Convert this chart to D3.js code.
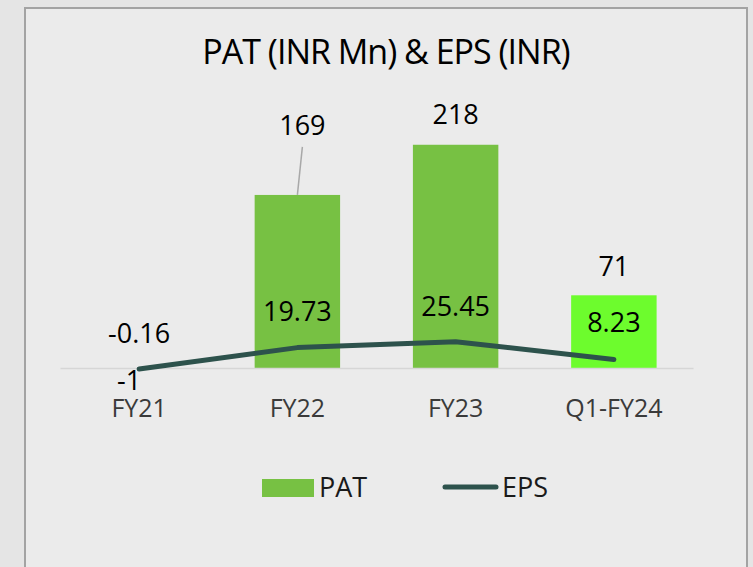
<!DOCTYPE html>
<html><head><meta charset="utf-8">
<script src="https://cdn.jsdelivr.net/npm/d3@7"></script>
<style>body{margin:0;background:#e4e4e4;} svg{display:block}</style>
</head><body>
<svg id="c" width="753" height="567"></svg>
<script>
// ---- data ----
const categories = ["FY21", "FY22", "FY23", "Q1-FY24"];
const patValues = [-0.16, 169, 218, 71];
const epsValues = [-1, 19.73, 25.45, 8.23];
const patLabels = ["-0.16", "169", "218", "71"];
const epsLabels = ["-1", "19.73", "25.45", "8.23"];
const seriesNames = ["PAT", "EPS"];
const title = "PAT (INR Mn) & EPS (INR)";

// ---- layout / style ----
const W = 753, H = 567;
const FONT = "'Open Sans', 'DejaVu Sans', sans-serif";
const barColors = ["#77c143", "#77c143", "#77c143", "#6dfc2d"];
const lineColor = "#2d524c";

const svg = d3.select("#c");

// background & frame
svg.append("rect").attr("width", W).attr("height", H).attr("fill", "#e5e5e5");
svg.append("rect").attr("x", 25).attr("y", 8).attr("width", 722).attr("height", H + 10)
  .attr("fill", "#ebebeb").attr("stroke", "#a3a3a3").attr("stroke-width", 2);

const x = d3.scaleBand().domain(categories).range([60, 693]).paddingInner(0.46).paddingOuter(0.23);
const yPat = d3.scaleLinear().domain([0, 250]).range([368, 112]);
const yEps = d3.scaleLinear().domain([0, 30]).range([368, 337]);

// title
svg.append("text").attr("x", 386).attr("y", 64).attr("text-anchor", "middle")
  .attr("font-family", FONT).attr("font-size", 34).attr("letter-spacing", -1)
  .attr("fill", "#000").text(title);

// bars
svg.append("g").selectAll("rect").data(patValues).join("rect")
  .attr("x", (d, i) => x(categories[i]))
  .attr("width", x.bandwidth())
  .attr("y", d => Math.min(yPat(d), yPat(0)))
  .attr("height", d => Math.max(1, Math.abs(yPat(d) - yPat(0))))
  .attr("fill", (d, i) => barColors[i]);

// baseline axis
const axis = d3.axisBottom(x).tickSize(0).tickPadding(0);
const gAxis = svg.append("g").attr("transform", `translate(0,${yPat(0)})`).call(axis);
gAxis.select(".domain").attr("stroke", "#d6d6d6").attr("stroke-width", 1.5);
gAxis.selectAll("text").attr("font-family", FONT).attr("font-size", 25)
  .attr("fill", "#3a3a3a").attr("dy", null).attr("y", 49);

// EPS line
const line = d3.line().x((d, i) => x(categories[i]) + x.bandwidth() / 2).y(d => yEps(d));
svg.append("path").datum(epsValues).attr("d", line)
  .attr("fill", "none").attr("stroke", lineColor).attr("stroke-width", 5)
  .attr("stroke-linecap", "round").attr("stroke-linejoin", "round");

// PAT labels
const patDx = [0, 5, 0, 0], patDy = [-35, -70, -30, -29];
const cx = i => x(categories[i]) + x.bandwidth() / 2;
svg.append("line")
  .attr("x1", cx(1) + 5).attr("y1", yPat(patValues[1]) - 48)
  .attr("x2", cx(1)).attr("y2", yPat(patValues[1]))
  .attr("stroke", "#a8a8a8").attr("stroke-width", 1.5);
svg.append("g").selectAll("text").data(patLabels).join("text")
  .attr("x", (d, i) => cx(i) + patDx[i])
  .attr("y", (d, i) => Math.min(yPat(patValues[i]), yPat(0)) + patDy[i])
  .attr("dy", "0.36em").attr("text-anchor", "middle")
  .attr("font-family", FONT).attr("font-size", 27).attr("fill", "#000").text(d => d);

// EPS labels
const epsDx = [-10, 0, 0, 0], epsDy = [11, -36, -35, -37];
svg.append("g").selectAll("text").data(epsLabels).join("text")
  .attr("x", (d, i) => cx(i) + epsDx[i])
  .attr("y", (d, i) => yEps(epsValues[i]) + epsDy[i])
  .attr("dy", "0.36em").attr("text-anchor", "middle")
  .attr("font-family", FONT).attr("font-size", 27).attr("fill", "#000").text(d => d);

// legend
const lg = svg.append("g");
lg.append("rect").attr("x", 262).attr("y", 479).attr("width", 52).attr("height", 18).attr("fill", barColors[0]);
lg.append("text").attr("x", 319).attr("y", 497).attr("font-family", FONT).attr("font-size", 27)
  .attr("fill", "#1a1a1a").text(seriesNames[0]);
lg.append("line").attr("x1", 445).attr("x2", 496).attr("y1", 487).attr("y2", 487)
  .attr("stroke", lineColor).attr("stroke-width", 5).attr("stroke-linecap", "round");
lg.append("text").attr("x", 502).attr("y", 497).attr("font-family", FONT).attr("font-size", 27)
  .attr("fill", "#1a1a1a").text(seriesNames[1]);
</script>
</body></html>
